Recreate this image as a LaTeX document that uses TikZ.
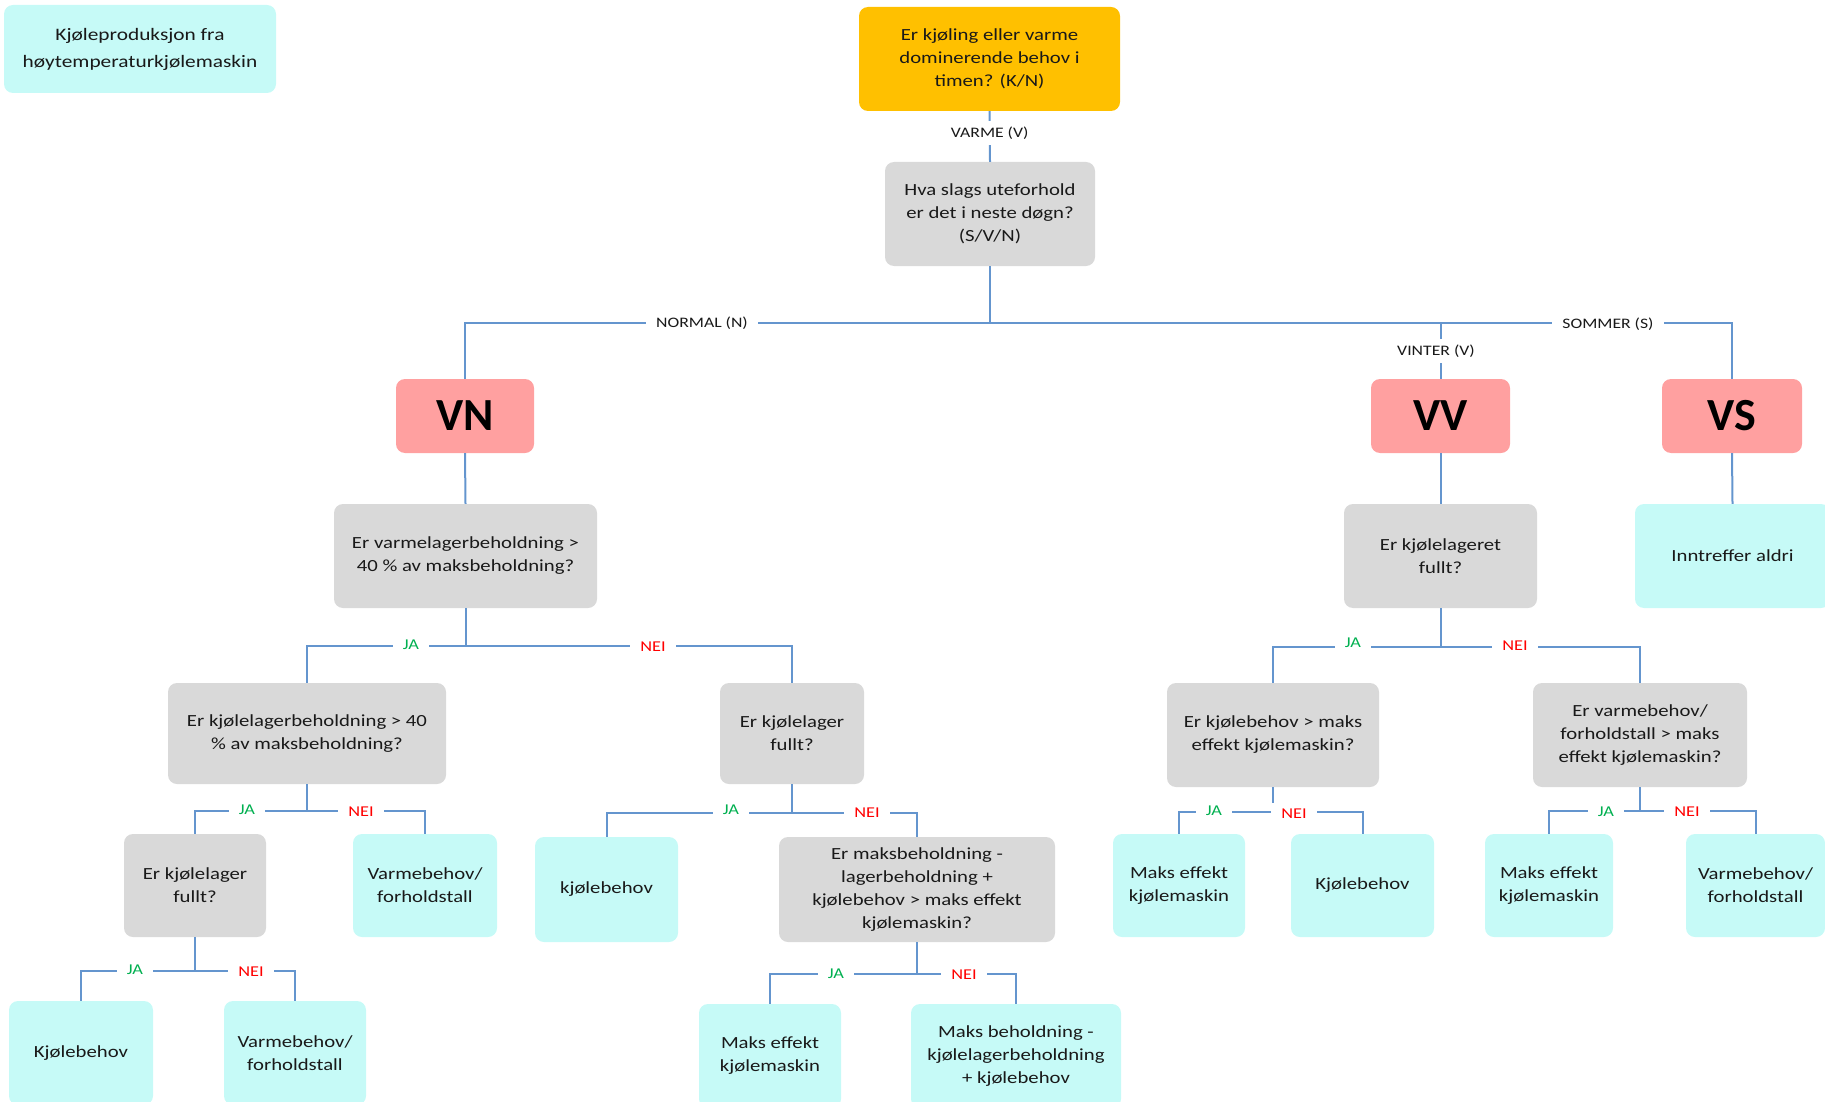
\documentclass[tikz,border=0pt]{standalone}
\usepackage{fontspec}
\setmainfont[FakeStretch=1.22]{Carlito}
\newfontfamily\bigfont{Carlito}
\definecolor{cyanbox}{RGB}{198,250,247}
\definecolor{greybox}{RGB}{217,217,217}
\definecolor{orangebox}{RGB}{255,192,0}
\definecolor{pinkbox}{RGB}{255,160,160}
\definecolor{linkblue}{RGB}{100,149,206}
\definecolor{txt}{RGB}{25,25,25}
\definecolor{jagreen}{RGB}{0,176,80}
\definecolor{neired}{RGB}{255,0,0}
\tikzset{
  box/.style={rounded corners=9pt, align=center, inner sep=0pt, text=txt,
    font=\fontsize{17}{23}\selectfont},
  leaf/.style={box, fill=cyanbox},
  ask/.style={box, fill=greybox},
  top/.style={box, fill=orangebox},
  mode/.style={box, fill=pinkbox, text=black, font=\bigfont\bfseries\fontsize{46}{50}\selectfont},
  link/.style={draw=linkblue, line width=2pt},
  lbl/.style={fill=white, inner xsep=10pt, inner ysep=6pt, text=txt,
    font=\fontsize{14.5}{16}\selectfont},
  ja/.style={lbl, text=jagreen, font=\fontsize{15}{16}\selectfont},
  nei/.style={lbl, text=neired, font=\fontsize{15}{16}\selectfont}
}
\begin{document}
\begin{tikzpicture}[x=1pt,y=-1pt]
\useasboundingbox (0,0) rectangle (1825,1102);

% legend
\node[leaf, minimum width=272pt, minimum height=88pt,
      font=\fontsize{17.5}{27}\selectfont] (legend) at (140,49)
  {Kjøleproduksjon fra\\høytemperaturkjølemaskin};

% top questions
\node[top, minimum width=261pt, minimum height=104pt] (q0) at (989.5,59)
  {Er kjøling eller varme\\dominerende behov i\\timen? (K/N)};
\node[ask, minimum width=210pt, minimum height=104pt] (q1) at (990,214)
  {Hva slags uteforhold\\er det i neste døgn?\\(S/V/N)};

% modes
\node[mode, minimum width=138pt, minimum height=74pt] (VN) at (465,416) {VN};
\node[mode, minimum width=139pt, minimum height=74pt] (VV) at (1440.5,416) {VV};
\node[mode, minimum width=140pt, minimum height=74pt] (VS) at (1732,416) {VS};

% VN branch
\node[ask, minimum width=263pt, minimum height=104pt] (qn1) at (465.5,556)
  {Er varmelagerbeholdning >\\40 \% av maksbeholdning?};
\node[ask, minimum width=278pt, minimum height=101pt] (qn2) at (307,733.5)
  {Er kjølelagerbeholdning > 40\\\% av maksbeholdning?};
\node[ask, minimum width=144pt, minimum height=101pt] (qn3) at (792,733.5)
  {Er kjølelager\\fullt?};
\node[ask, minimum width=142pt, minimum height=103pt] (qn4) at (195,885.5)
  {Er kjølelager\\fullt?};
\node[leaf, minimum width=144pt, minimum height=103pt] (n2nei) at (425,885.5)
  {Varmebehov/\\forholdstall};
\node[leaf, minimum width=143pt, minimum height=105pt] (n3ja) at (606.5,889.5)
  {kjølebehov};
\node[ask, minimum width=276pt, minimum height=105pt] (qn5) at (917,889.5)
  {Er maksbeholdning -\\lagerbeholdning +\\kjølebehov > maks effekt\\kjølemaskin?};
\node[leaf, minimum width=144pt, minimum height=104pt] (n4ja) at (81,1053)
  {Kjølebehov};
\node[leaf, minimum width=142pt, minimum height=104pt] (n4nei) at (295,1053)
  {Varmebehov/\\forholdstall};
\node[leaf, minimum width=142pt, minimum height=104pt] (n5ja) at (770,1056)
  {Maks effekt\\kjølemaskin};
\node[leaf, minimum width=210pt, minimum height=104pt] (n5nei) at (1016,1056)
  {Maks beholdning -\\kjølelagerbeholdning\\+ kjølebehov};

% VV branch
\node[ask, minimum width=193pt, minimum height=104pt] (qv1) at (1440.5,556)
  {Er kjølelageret\\fullt?};
\node[ask, minimum width=212pt, minimum height=104pt] (qv2) at (1273,735)
  {Er kjølebehov > maks\\effekt kjølemaskin?};
\node[ask, minimum width=214pt, minimum height=104pt] (qv3) at (1640,735)
  {Er varmebehov/\\forholdstall > maks\\effekt kjølemaskin?};
\node[leaf, minimum width=132pt, minimum height=103pt] (v2ja) at (1179,885.5)
  {Maks effekt\\kjølemaskin};
\node[leaf, minimum width=143pt, minimum height=103pt] (v2nei) at (1362.5,885.5)
  {Kjølebehov};
\node[leaf, minimum width=128pt, minimum height=103pt] (v3ja) at (1549,885.5)
  {Maks effekt\\kjølemaskin};
\node[leaf, minimum width=139pt, minimum height=103pt] (v3nei) at (1755.5,885.5)
  {Varmebehov/\\forholdstall};

% VS branch
\node[leaf, minimum width=195pt, minimum height=104pt] (vs1) at (1732.5,556)
  {Inntreffer aldri};

% connectors
\draw[link] (q0.south) -- node[lbl, pos=0.43] {VARME (V)} (q1.north);
\draw[link] (q1.south) -- ++(0,57) -| (VN.north);
\draw[link] (q1.south) -- ++(0,57) -| (VV.north);
\draw[link] (q1.south) -- ++(0,57) -| (VS.north);
\draw[link] (VN.south) -- (qn1.north);
\draw[link] (VV.south) -- (qv1.north);
\draw[link] (VS.south) -- (vs1.north);

\draw[link] (qn1.south) -- ++(0,38) -| (qn2.north);
\draw[link] (qn1.south) -- ++(0,38) -| (qn3.north);
\draw[link] (qn2.south) -- ++(0,27) -| (qn4.north);
\draw[link] (qn2.south) -- ++(0,27) -| (n2nei.north);
\draw[link] (qn3.south) -- ++(0,29) -| (n3ja.north);
\draw[link] (qn3.south) -- ++(0,29) -| (qn5.north);
\draw[link] (qn4.south) -- ++(0,34) -| (n4ja.north);
\draw[link] (qn4.south) -- ++(0,34) -| (n4nei.north);
\draw[link] (qn5.south) -- ++(0,32) -| (n5ja.north);
\draw[link] (qn5.south) -- ++(0,32) -| (n5nei.north);

\draw[link] (qv1.south) -- ++(0,39) -| (qv2.north);
\draw[link] (qv1.south) -- ++(0,39) -| (qv3.north);
\draw[link] (qv2.south) -- ++(0,25) -| (v2ja.north);
\draw[link] (qv2.south) -- ++(0,25) -| (v2nei.north);
\draw[link] (qv3.south) -- ++(0,24) -| (v3ja.north);
\draw[link] (qv3.south) -- ++(0,24) -| (v3nei.north);

% branch labels
\node[lbl] (lnormal) at (702,323) {NORMAL (N)};
\node[lbl] (lvinter) at (1436,351) {VINTER (V)};
\node[lbl] (lsommer) at (1608,324) {SOMMER (S)};

\node[ja]  (l1ja)  at (411,645) {JA};
\node[nei] (l1nei) at (653,647) {NEI};
\node[ja]  (l2ja)  at (247,810) {JA};
\node[nei] (l2nei) at (361,812) {NEI};
\node[ja]  (l3ja)  at (731,810) {JA};
\node[nei] (l3nei) at (867,813) {NEI};
\node[ja]  (l4ja)  at (135,970) {JA};
\node[nei] (l4nei) at (251,972) {NEI};
\node[ja]  (l5ja)  at (836,974) {JA};
\node[nei] (l5nei) at (964,975) {NEI};

\node[ja]  (l6ja)  at (1353,643) {JA};
\node[nei] (l6nei) at (1515,646) {NEI};
\node[ja]  (l7ja)  at (1214,811) {JA};
\node[nei] (l7nei) at (1294,814) {NEI};
\node[ja]  (l8ja)  at (1606,812) {JA};
\node[nei] (l8nei) at (1687,812) {NEI};
\end{tikzpicture}
\end{document}
